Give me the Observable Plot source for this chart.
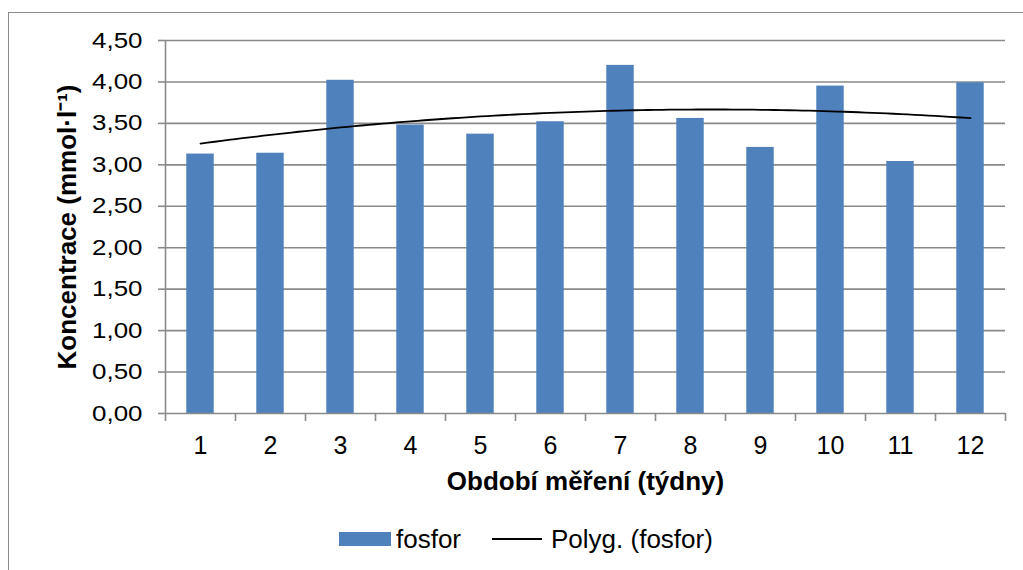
<!DOCTYPE html>
<html>
<head>
<meta charset="utf-8">
<script src="https://cdn.jsdelivr.net/npm/d3@7"></script>
<script src="https://cdn.jsdelivr.net/npm/@observablehq/plot@0.6"></script>
<style>
  body { margin: 0; background: #fff; font-family: "Liberation Sans", Arial, sans-serif; }
  #wrap { position: relative; width: 1023px; height: 570px; overflow: hidden; background: #fff; }
  #frame { position: absolute; left: 8px; top: 12px; width: 1200px; height: 800px; border: 1px solid #8c8c8c; box-sizing: border-box; }
  #chart { position: absolute; left: 0; top: 0; }
  #legend { position: absolute; left: 339px; top: 524px; height: 30px; display: flex; align-items: center; font-size: 26px; color: #000; white-space: nowrap; }
  .sw-bar { width: 52px; height: 14px; background: #4F81BD; margin-right: 5px; }
  .sw-line { width: 50px; height: 2px; background: #000; margin-left: 31px; margin-right: 9px; }
</style>
</head>
<body>
<div id="wrap">
  <div id="frame"></div>
  <div id="chart"></div>
  <div id="legend">
    <div class="sw-bar"></div><span>fosfor</span>
    <div class="sw-line"></div><span>Polyg. (fosfor)</span>
  </div>
</div>
<script>
// ---- data ----
const weeks = [1, 2, 3, 4, 5, 6, 7, 8, 9, 10, 11, 12];
const fosfor = [3.13, 3.14, 4.02, 3.48, 3.37, 3.52, 4.20, 3.56, 3.21, 3.95, 3.04, 3.99];
const yTicks = [0, 0.5, 1, 1.5, 2, 2.5, 3, 3.5, 4, 4.5];
const xTitle = "Období měření (týdny)";
const yTitle = "Koncentrace (mmol·l⁻¹)";

const data = weeks.map((w, i) => ({week: w, value: fosfor[i]}));

// polynomial (order 2) trendline, least squares on the data
function quadFit(xs, ys) {
  const S = [0, 0, 0, 0, 0], T = [0, 0, 0];
  xs.forEach((x, i) => {
    for (let k = 0; k < 5; k++) S[k] += Math.pow(x, k);
    for (let k = 0; k < 3; k++) T[k] += ys[i] * Math.pow(x, k);
  });
  const A = [[S[0], S[1], S[2], T[0]], [S[1], S[2], S[3], T[1]], [S[2], S[3], S[4], T[2]]];
  for (let c = 0; c < 3; c++) {
    for (let r = c + 1; r < 3; r++) {
      const f = A[r][c] / A[c][c];
      for (let k = c; k < 4; k++) A[r][k] -= f * A[c][k];
    }
  }
  const b = [0, 0, 0];
  for (let r = 2; r >= 0; r--) {
    let s = A[r][3];
    for (let k = r + 1; k < 3; k++) s -= A[r][k] * b[k];
    b[r] = s / A[r][r];
  }
  return x => b[0] + b[1] * x + b[2] * x * x;
}
const fit = quadFit(weeks, fosfor);
const trend = d3.range(0, 111).map(i => {
  const x = weeks[0] + (weeks[weeks.length - 1] - weeks[0]) * i / 110;
  return {x, y: fit(x)};
});

const boundaries = [...weeks.map(w => w - 0.5), weeks[weeks.length - 1] + 0.5];
const fmt = v => d3.format(".2f")(v).replace(".", ",");
const grid = "#8a8a8a";

const chart = Plot.plot({
  width: 1023,
  height: 505,
  marginLeft: 165,
  marginRight: 18,
  marginTop: 40,
  marginBottom: 92,
  style: {fontFamily: '"Liberation Sans", Arial, sans-serif', color: "#000", background: "transparent"},
  x: {domain: [weeks[0] - 0.5, weeks[weeks.length - 1] + 0.5], axis: null},
  y: {domain: [yTicks[0], yTicks[yTicks.length - 1]], axis: null},
  marks: [
    Plot.ruleY(yTicks.slice(1), {stroke: grid, strokeWidth: 1.6}),
    Plot.rectY(data, {x1: d => d.week - 0.196, x2: d => d.week + 0.196, y: "value", fill: "#4F81BD"}),
    Plot.line(trend, {x: "x", y: "y", stroke: "#000", strokeWidth: 1.8}),
    Plot.ruleX([weeks[0] - 0.5], {stroke: grid, strokeWidth: 1.6}),
    Plot.ruleY([0], {stroke: grid, strokeWidth: 1.6, dx: 0}),
    Plot.axisY({ticks: yTicks, tickFormat: fmt, tickSize: 7, tickPadding: 16, fontSize: 22, stroke: grid, strokeWidth: 1.6, label: null}),
    Plot.axisX({ticks: boundaries, tickFormat: () => "", tickSize: 8, stroke: grid, strokeWidth: 1.6, label: null}),
    Plot.axisX({ticks: weeks, tickFormat: d => String(d), tickSize: 0, tickPadding: 23, fontSize: 25, label: null}),
    Plot.text([xTitle], {frameAnchor: "bottom", dy: 76, fontSize: 26, fontWeight: "bold", textAnchor: "middle"}),
    Plot.text([yTitle], {frameAnchor: "left", dx: -98, rotate: -90, fontSize: 26, fontWeight: "bold", textAnchor: "middle"})
  ]
});
document.getElementById("chart").appendChild(chart);

// widen the y tick labels horizontally, as in the reference
d3.select(chart).selectAll('g[aria-label="y-axis tick label"] text').each(function() {
  const len = this.getComputedTextLength();
  this.setAttribute("textLength", (len * 1.18).toFixed(1));
  this.setAttribute("lengthAdjust", "spacingAndGlyphs");
});
</script>
</body>
</html>
